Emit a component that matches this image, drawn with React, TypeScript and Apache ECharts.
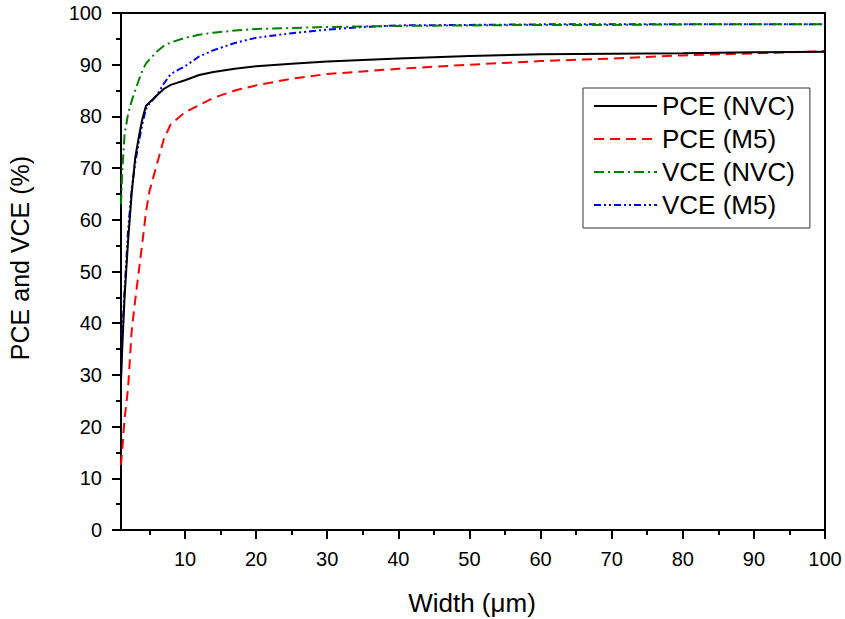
import React, { useEffect, useRef } from "react";
import * as echarts from "echarts";

const widths = [1, 1.2, 1.5, 2, 2.5, 3, 3.5, 4, 4.5, 5, 6, 7, 8, 10, 12, 14, 17, 20, 25, 30, 35, 40, 50, 60, 70, 80, 90, 100];
const pceNvc = [29, 36, 45, 56, 65, 72, 76, 79.5, 82, 82.7, 84, 85.3, 86.1, 87, 88, 88.6, 89.2, 89.7, 90.2, 90.6, 90.9, 91.2, 91.7, 92, 92.1, 92.2, 92.4, 92.5];
const pceM5 = [12.6, 16, 21.5, 27.5, 38.5, 44.5, 50, 55.5, 61.4, 65.5, 70.5, 75.5, 78.5, 80.8, 82.2, 83.6, 85, 86, 87.3, 88.2, 88.7, 89.2, 90, 90.7, 91.2, 91.8, 92.2, 92.6];
const vceNvc = [63, 70, 76.5, 80.5, 83, 85, 87, 88.8, 90.2, 91, 92.5, 93.6, 94.3, 95.2, 95.8, 96.2, 96.6, 96.9, 97.1, 97.3, 97.4, 97.5, 97.6, 97.7, 97.7, 97.8, 97.8, 97.8];
const vceM5 = [29.5, 38.5, 46.5, 58, 66, 71, 75, 78.5, 81.4, 82.5, 84, 86.3, 88.2, 89.7, 91.6, 92.8, 94.2, 95.2, 96.1, 96.8, 97.3, 97.6, 97.7, 97.8, 97.8, 97.8, 97.8, 97.8];

const seriesNames = ["PCE (NVC)", "PCE (M5)", "VCE (NVC)", "VCE (M5)"];
const xMajorTicks = [10, 20, 30, 40, 50, 60, 70, 80, 90, 100];
const xMinorTicks = [5, 15, 25, 35, 45, 55, 65, 75, 85, 95];
const xTitle = "Width (\u03bcm)";
const yTitle = "PCE and VCE (%)";

const FONT = "'Liberation Sans', Arial, sans-serif";

export default function App() {
  const ref = useRef<HTMLDivElement>(null);
  useEffect(() => {
    document.body.style.margin = "0";
    const chart = echarts.init(ref.current!, undefined, { renderer: "svg" });
    const pair = (vals: number[]) => widths.map((w, i) => [w, vals[i]]);
    const styles = [
      { color: "#000000", type: "solid" as any },
      { color: "#ff0000", type: [10, 6] },
      { color: "#008000", type: [10, 4, 2, 4] },
      { color: "#0000ff", type: [7, 3, 2, 3, 2, 3] },
    ];
    const data = [pceNvc, pceM5, vceNvc, vceM5];
    chart.setOption({
      animation: false,
      textStyle: { fontFamily: FONT },
      grid: {
        left: 121, right: 20, top: 13, bottom: 89,
        show: true, borderColor: "#000", borderWidth: 2, backgroundColor: "transparent",
      },
      legend: {
        orient: "vertical",
        left: 583, top: 88,
        padding: [5, 15, 10, 10],
        borderColor: "#333",
        borderWidth: 1,
        itemWidth: 63, itemHeight: 14, itemGap: 7, itemTextGap: 7,
        itemStyle: { opacity: 0, borderWidth: 0 },
        textStyle: { fontSize: 26, color: "#000", fontFamily: FONT },
        data: seriesNames,
      },
      xAxis: [
        {
          type: "value", min: 1, max: 100,
          axisLine: { show: true, lineStyle: { color: "#000", width: 2 } },
          axisTick: { show: true, inside: false, length: 9, customValues: xMajorTicks, lineStyle: { color: "#000", width: 2 } },
          axisLabel: { show: true, margin: 19, fontSize: 20, color: "#000", fontFamily: FONT, customValues: xMajorTicks },
          splitLine: { show: false },
        },
        {
          type: "value", min: 1, max: 100, position: "bottom",
          axisLine: { show: false },
          axisTick: { show: true, length: 5, customValues: xMinorTicks, lineStyle: { color: "#000", width: 2 } },
          axisLabel: { show: false },
          splitLine: { show: false },
        },
      ],
      yAxis: {
        type: "value", min: 0, max: 100, interval: 10,
        axisLine: { show: true, lineStyle: { color: "#000", width: 2 } },
        axisTick: { show: true, length: 9, lineStyle: { color: "#000", width: 2 } },
        minorTick: { show: true, splitNumber: 2, length: 5, lineStyle: { color: "#000", width: 2 } },
        axisLabel: { margin: 19, fontSize: 20, color: "#000", fontFamily: FONT },
        splitLine: { show: false },
        minorSplitLine: { show: false },
      },
      graphic: [
        {
          type: "text", x: 20, y: 258, rotation: Math.PI / 2,
          style: { text: yTitle, fontSize: 25, fontFamily: FONT, fill: "#000", align: "center", verticalAlign: "middle" },
        },
        {
          type: "text", x: 472, y: 603,
          style: { text: xTitle, fontSize: 26, fontFamily: FONT, fill: "#000", align: "center", verticalAlign: "middle" },
        },
      ],
      series: seriesNames.map((name, i) => ({
        name,
        type: "line",
        xAxisIndex: 0,
        data: pair(data[i]),
        symbol: "none",
        showSymbol: false,
        smooth: false,
        color: styles[i].color,
        lineStyle: { color: styles[i].color, width: 2, type: styles[i].type },
        z: 4 - i,
      })),
    });
    return () => chart.dispose();
  }, []);
  return <div ref={ref} style={{ width: 845, height: 619 }} />;
}
